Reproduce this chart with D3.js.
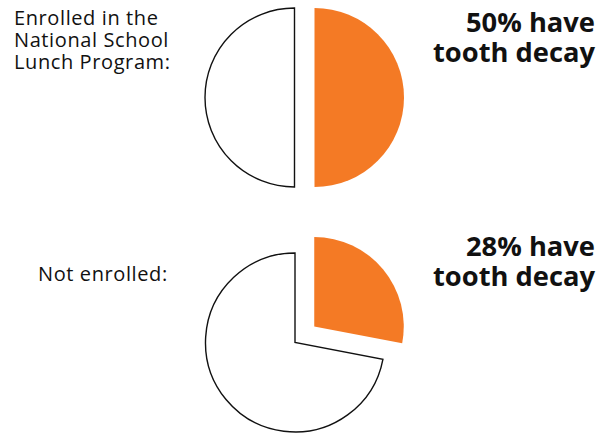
<!DOCTYPE html>
<html><head><meta charset="utf-8">
<script src="https://cdn.jsdelivr.net/npm/d3@7"></script>
<style>body{margin:0;background:#fff}svg{display:block}</style>
</head><body>
<svg id="c" width="598" height="433"></svg>
<script>
const groups = ["Enrolled in the National School Lunch Program:", "Not enrolled:"];
const decayPct = [50, 28];
const headlineLines = [["50% have", "tooth decay"], ["28% have", "tooth decay"]];
const leftLabelLines = [["Enrolled in the", "National School", "Lunch Program:"], ["Not enrolled:"]];

const svg = d3.select("#c");
const R = 89.5;
const layout = [
  {cx: 294.5, cy: 97.5, explode: 20, labelX: 14, labelY: 25, headY: 31.5},
  {cx: 295, cy: 342.5, explode: 25, labelX: 38, labelY: 281, headY: 256}
];
const pie = d3.pie().sort(null).value(d => d);
const arc = d3.arc().innerRadius(0).outerRadius(R);

decayPct.forEach((p, i) => {
  const L = layout[i];
  const g = svg.append("g").attr("transform", `translate(${L.cx},${L.cy})`);
  const arcs = pie([p, 100 - p]);
  g.append("path").attr("d", arc(arcs[1]))
    .attr("fill", "#fff").attr("stroke", "#111").attr("stroke-width", 1.4)
    .attr("stroke-linejoin", "miter");
  const mid = (arcs[0].startAngle + arcs[0].endAngle) / 2;
  const dx = Math.sin(mid) * L.explode, dy = -Math.cos(mid) * L.explode;
  g.append("path").attr("d", arc(arcs[0]))
    .attr("transform", `translate(${dx},${dy})`)
    .attr("fill", "#F47A25");

  const lt = svg.append("text").attr("x", L.labelX).attr("y", L.labelY)
    .attr("font-family", "'Open Sans', 'Noto Sans', sans-serif").attr("font-size", 20)
    .attr("letter-spacing", 0.6).attr("fill", "#111");
  leftLabelLines[i].forEach((s, k) => lt.append("tspan").attr("x", L.labelX).attr("dy", k ? 22 : 0).text(s));

  const ht = svg.append("text").attr("x", 595).attr("y", L.headY).attr("text-anchor", "end")
    .attr("font-family", "'Open Sans', 'Noto Sans', sans-serif").attr("font-weight", "bold")
    .attr("font-size", 27.3).attr("fill", "#111");
  headlineLines[i].forEach((s, k) => ht.append("tspan").attr("x", 595).attr("dy", k ? 30.3 : 0).text(s));
});
</script>
</body></html>
